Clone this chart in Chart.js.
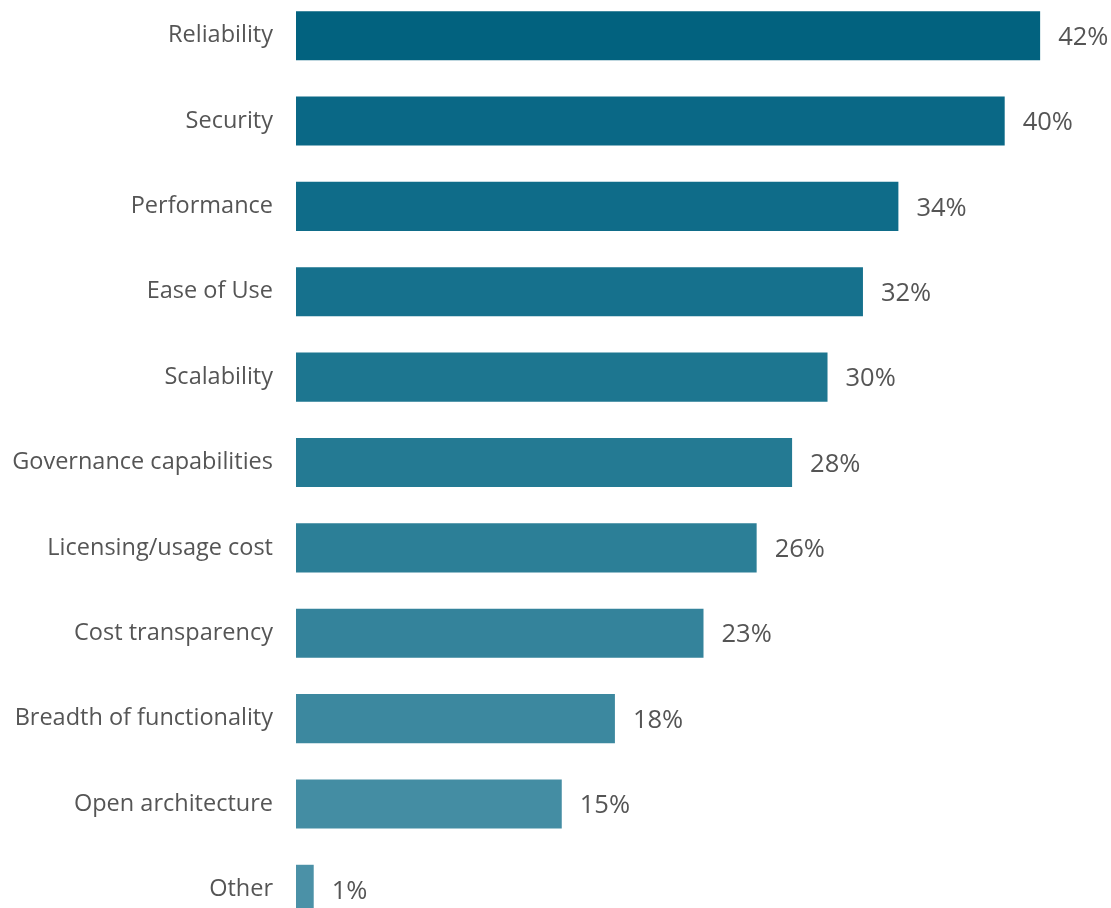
<!DOCTYPE html>
<html>
<head>
<meta charset="utf-8">
<script src="https://cdn.jsdelivr.net/npm/chart.js@4"></script>
<style>
  html, body { margin:0; padding:0; background:#fff; overflow:hidden; }
  #wrap { position:absolute; left:0; top:-7px; width:1111px; height:939px; }
</style>
</head>
<body>
<div id="wrap"><canvas id="factorChart"></canvas></div>
<script>
// Share of respondents naming each factor
const categories = ['Reliability','Security','Performance','Ease of Use','Scalability',
  'Governance capabilities','Licensing/usage cost','Cost transparency',
  'Breadth of functionality','Open architecture','Other'];
const shares = [42,40,34,32,30,28,26,23,18,15,1];

// teal ramp, darkest on top
const barColors = ['#02627f','#0a6886','#0f6c89','#16718d','#1d7690','#247a93',
  '#2c7f97','#34839b','#3c889f','#448da3','#4b91a7'];

const valueLabels = {
  id:'valueLabels',
  afterDatasetsDraw(chart){
    const {ctx} = chart;
    const meta = chart.getDatasetMeta(0);
    ctx.save();
    ctx.font = '25.5px "Open Sans"';
    ctx.fillStyle = '#555';
    ctx.textBaseline = 'middle';
    ctx.textAlign = 'left';
    meta.data.forEach((bar,i)=>{
      ctx.fillText(shares[i]+'%', bar.x+18, bar.y+2);
    });
    ctx.restore();
  }
};

new Chart(document.getElementById('factorChart'), {
  type:'bar',
  data:{
    labels:categories,
    datasets:[{ data:shares, backgroundColor:barColors, borderWidth:0,
      barPercentage:0.575, categoryPercentage:1 }]
  },
  options:{
    indexAxis:'y',
    responsive:true,
    maintainAspectRatio:false,
    animation:false,
    layout:{ padding:0 },
    plugins:{ legend:{display:false}, tooltip:{enabled:false} },
    scales:{
      x:{ display:false, min:0, max:46 },
      y:{
        grid:{display:false, drawTicks:false},
        border:{display:false},
        ticks:{ color:'#555', padding:23, font:{family:'"Open Sans"', size:23.5} },
        afterFit(scale){
          scale.width = 296;
          scale.paddingTop = 0;
          scale.paddingBottom = 0;
        }
      }
    }
  },
  plugins:[valueLabels]
});
</script>
</body>
</html>
